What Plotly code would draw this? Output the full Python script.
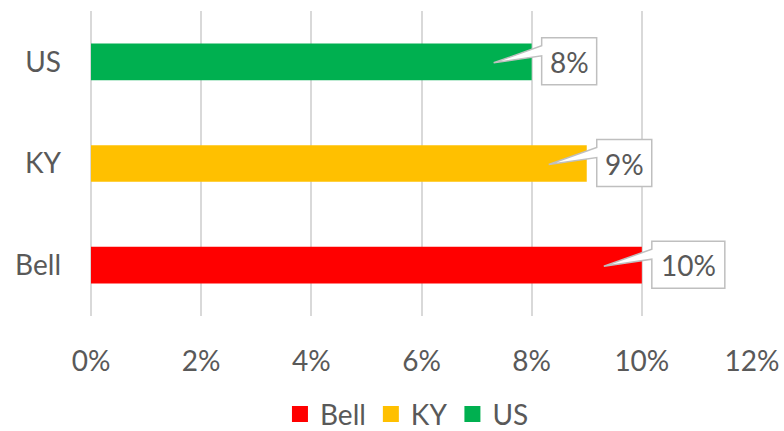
import plotly.graph_objects as go

# Share of population, by area
categories = ["Bell", "KY", "US"]
values = [0.10, 0.09, 0.08]
colors = ["#FF0000", "#FFC000", "#00B050"]
x_ticks = [0, 0.02, 0.04, 0.06, 0.08, 0.10, 0.12]

FONT = "Lato, Liberation Sans, sans-serif"
TEXT_COLOR = "#595959"
GRID_COLOR = "#D9D9D9"
FONT_SIZE = 28

fig = go.Figure()
for cat, val, col in zip(categories, values, colors):
    fig.add_trace(go.Bar(
        y=[cat], x=[val], name=cat, orientation="h",
        marker=dict(color=col, line=dict(width=0)),
        width=0.36, showlegend=False,
    ))

# Legend entries with larger square swatches
for cat, col in zip(categories, colors):
    fig.add_trace(go.Scatter(
        x=[None], y=[None], name=cat, mode="markers",
        marker=dict(symbol="square", size=18, color=col, line=dict(width=0)),
        showlegend=True,
    ))

# Wedge callouts: a box to the right of each bar end with a pointer back into the bar
for cat, val in zip(categories, values):
    label = f"{val:.0%}"
    w = 18 * len(label) + 19
    path = (f"M -38,-1 L 10,6 L 10,-23 L {10 + w},-23 L {10 + w},24 "
            f"L 10,24 L 10,16 Z")
    fig.add_shape(
        type="path", path=path,
        xref="x", yref="y", xsizemode="pixel", ysizemode="pixel",
        xanchor=val, yanchor=cat,
        fillcolor="white", line=dict(color="#BFBFBF", width=1.5),
        layer="above",
    )
    fig.add_annotation(
        x=val, y=cat, xref="x", yref="y", text=label, showarrow=False,
        xshift=10 + w / 2, yshift=0,
        font=dict(family=FONT, size=FONT_SIZE, color=TEXT_COLOR),
    )

fig.update_layout(
    width=784, height=431,
    margin=dict(l=91, r=32, t=11, b=115, autoexpand=False),
    paper_bgcolor="white", plot_bgcolor="white",
    barmode="overlay",
    font=dict(family=FONT, size=FONT_SIZE, color=TEXT_COLOR),
    showlegend=True,
    legend=dict(
        orientation="h", x=0.478, xanchor="center", y=-0.322, yanchor="middle",
        bgcolor="rgba(0,0,0,0)", borderwidth=0,
        font=dict(family=FONT, size=FONT_SIZE, color=TEXT_COLOR),
        itemwidth=30, traceorder="normal",
    ),
    xaxis=dict(
        range=[0, 0.12], tickvals=x_ticks, tickformat=".0%",
        showgrid=True, gridcolor=GRID_COLOR, gridwidth=1.5,
        zeroline=True, zerolinecolor=GRID_COLOR, zerolinewidth=1.5,
        showline=False, ticks="", ticklabelstandoff=26, automargin=False,
        tickfont=dict(family=FONT, size=FONT_SIZE, color=TEXT_COLOR),
        fixedrange=True,
    ),
    yaxis=dict(
        categoryorder="array", categoryarray=categories,
        showgrid=False, zeroline=False, showline=False, ticks="",
        ticklabelstandoff=29, automargin=False,
        tickfont=dict(family=FONT, size=FONT_SIZE, color=TEXT_COLOR),
        fixedrange=True,
    ),
)

fig.write_html("out.html")
